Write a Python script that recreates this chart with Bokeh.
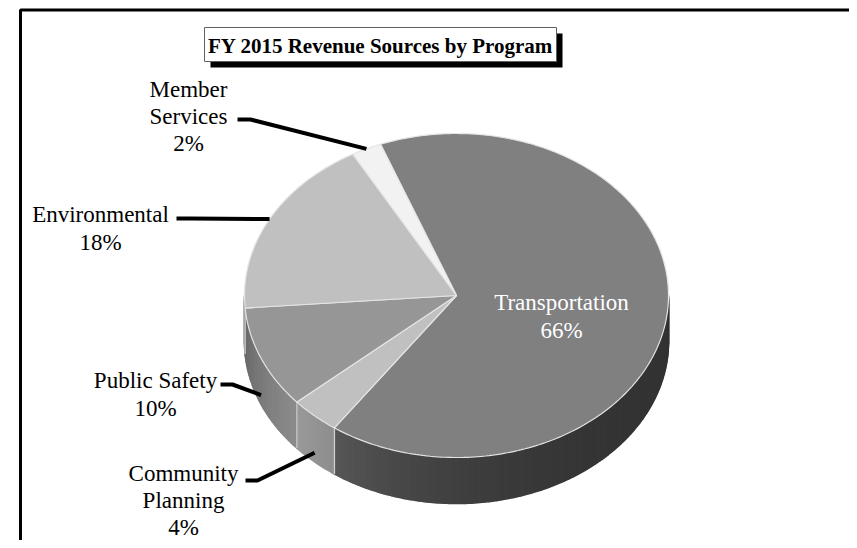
import math
from bokeh.plotting import figure
from bokeh.models import Range1d
from bokeh.embed import file_html
from bokeh.resources import INLINE
from bokeh.core.properties import value

# ---------------- data ----------------
categories = ["Transportation", "Community Planning", "Public Safety", "Environmental", "Member Services"]
label_names = ["Transportation", "Community\nPlanning", "Public Safety", "Environmental", "Member\nServices"]
shares = [65.6, 3.8, 10.2, 18.1, 2.3]
title_text = "FY 2015 Revenue Sources by Program"

# ---------------- styles / layout ----------------
top_colors = ["#808080", "#c0c0c0", "#969696", "#c0c0c0", "#f2f2f2"]
side_shade = [(0.40, 0.68, 3.0), (0.74, 0.80, 1.0), (0.94, 0.70, 1.0), (0.70, 0.70, 1.0), (0.8, 0.8, 1.0)]
label_colors = ["white", "black", "black", "black", "black"]
# label block centre and leader elbow (start, corner) in pixels; None = no leader
label_pos = [(561, 316), (183, 500), (155, 394), (100, 228), (188, 116)]
label_line_height = [1.12, 1.08, 1.12, 1.12, 1.08]
leader_elbow = [None, [(245, 480), (257, 480)], [(220, 384), (232, 384)],
                [(176, 218), (190, 218)], [(237, 119), (250, 119)]]
CX, CY, RX, RY, DEPTH = 456, 295, 212, 162, 46
START = -21.0  # degrees clockwise from top
FONT = "Liberation Serif"

W, H = 849, 540
p = figure(width=W, height=H, x_range=Range1d(0, W), y_range=Range1d(H, 0),
           output_backend="svg", toolbar_location=None, tools="",
           x_axis_location=None, y_axis_location=None, min_border=0,
           outline_line_color=None, background_fill_color="white", border_fill_color="white")
p.xgrid.visible = False
p.ygrid.visible = False


def pt(deg, dy=0.0):
    t = math.radians(deg)
    return CX + RX * math.sin(t), CY - RY * math.cos(t) + dy


def shade(hexcol, f):
    h = hexcol.lstrip("#")
    r, g, b = (int(h[i:i + 2], 16) for i in (0, 2, 4))
    return "#%02x%02x%02x" % tuple(max(0, min(255, int(c * f))) for c in (r, g, b))


total = sum(shares)
bounds = []
a = START
for s in shares:
    b = a + 360.0 * s / total
    bounds.append((a, b))
    a = b

# ---------------- sides ----------------
sx, sy, sc = [], [], []
seams = []
for i, (a0, b0) in enumerate(bounds):
    v0, v1 = max(a0, 90.0), min(b0, 270.0)
    if v1 <= v0:
        continue
    n = max(2, int((v1 - v0) / 0.75))
    f0, f1, g = side_shade[i]
    for k in range(n):
        t0 = v0 + (v1 - v0) * k / n
        t1 = v0 + (v1 - v0) * (k + 1) / n
        tm = ((t0 + t1) / 2 - v0) / (v1 - v0)
        f = f0 + (f1 - f0) * tm ** g
        x0, y0 = pt(t0)
        x1, y1 = pt(t1)
        sx.append([x0, x1, x1, x0])
        sy.append([y0, y1, y1 + DEPTH, y0 + DEPTH])
        sc.append(shade(top_colors[i], f))
    for edge in (a0, b0):
        if 90.0 < edge < 270.0:
            seams.append(edge)
p.patches(sx, sy, fill_color=sc, line_color=sc, line_width=1.6)
for e in set(round(s, 3) for s in seams):
    x, y = pt(e)
    p.line([x, x], [y, y + DEPTH], line_color="#d0d0d0", line_width=1.2)

# ---------------- top wedges ----------------
wx, wy = [], []
for (a0, b0) in bounds:
    n = max(3, int((b0 - a0) / 1.0))
    xs, ys = [CX], [CY]
    for k in range(n + 1):
        x, y = pt(a0 + (b0 - a0) * k / n)
        xs.append(x)
        ys.append(y)
    wx.append(xs)
    wy.append(ys)
p.patches(wx, wy, fill_color=top_colors, line_color="#e4e4e4", line_width=1.2)

# ---------------- leaders ----------------
lx, ly = [], []
for i, (a0, b0) in enumerate(bounds):
    if leader_elbow[i] is None:
        continue
    mid = (a0 + b0) / 2
    front = 90.0 < (mid % 360) < 270.0
    ex, ey = pt(mid, 0.8 * DEPTH if front else 0.0)
    (x1, y1), (x2, y2) = leader_elbow[i]
    lx.append([x1, x2, ex])
    ly.append([y1, y2, ey])
p.multi_line(lx, ly, line_color="black", line_width=4)

# ---------------- labels ----------------
texts = ["%s\n%d%%" % (label_names[i], round(100 * shares[i] / total)) for i in range(len(shares))]
for i in range(len(texts)):
    p.text(x=[label_pos[i][0]], y=[label_pos[i][1]], text=[texts[i]],
           text_color=label_colors[i], text_font=value(FONT), text_font_size=value("23px"),
           text_align="center", text_baseline="middle", text_line_height=label_line_height[i])

# ---------------- title box ----------------
p.quad(left=[210], right=[562], top=[33], bottom=[67], fill_color="black", line_color=None)
p.quad(left=[204], right=[556], top=[27], bottom=[61], fill_color="white", line_color="#606060", line_width=1)
p.text(x=[380], y=[45], text=[title_text], text_font=value(FONT), text_font_size=value("21px"),
       text_font_style="bold", text_align="center", text_baseline="middle", text_color="black")

# ---------------- outer frame ----------------
p.line([20, 20, 870], [560, 9.5, 9.5], line_color="black", line_width=3)

open("out.html", "w").write(file_html(p, INLINE))
